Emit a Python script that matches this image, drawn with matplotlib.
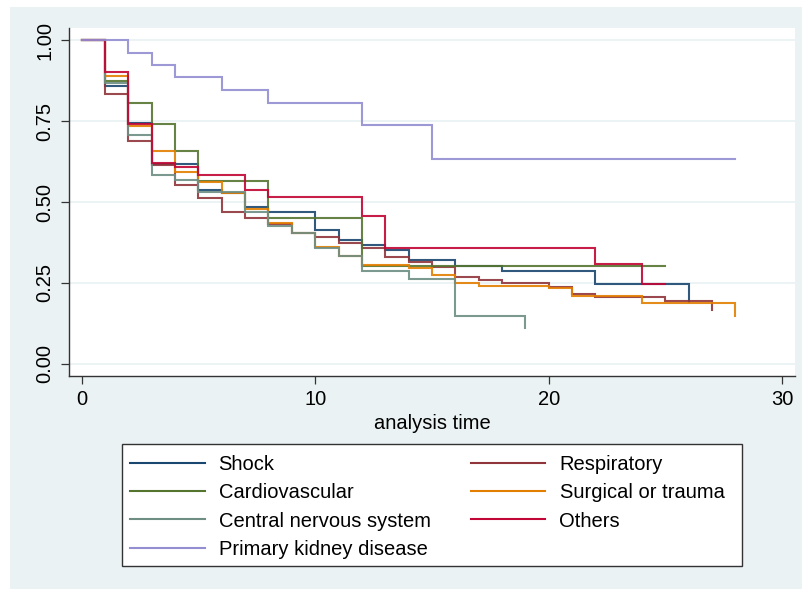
import matplotlib
matplotlib.use("Agg")
import matplotlib.pyplot as plt
from matplotlib.patches import Rectangle

plt.rcParams['font.family'] = ['Liberation Sans', 'DejaVu Sans']

# ---- data (Kaplan-Meier step values) ----
shock_t = [0, 1, 2, 3, 5, 6, 7, 8, 10, 11, 12, 13, 14, 16, 18, 22, 26]
shock_s = [1.0, 0.860, 0.745, 0.617, 0.538, 0.527, 0.486, 0.470, 0.412, 0.383,
           0.368, 0.353, 0.321, 0.303, 0.287, 0.245, 0.191]

resp_t = [0, 1, 2, 3, 4, 5, 6, 7, 8, 9, 10, 11, 12, 13, 14, 15, 16, 17, 18,
          20, 21, 22, 25, 27]
resp_s = [1.0, 0.833, 0.689, 0.614, 0.552, 0.511, 0.468, 0.452, 0.431, 0.405,
          0.393, 0.372, 0.357, 0.330, 0.315, 0.298, 0.267, 0.259, 0.251,
          0.237, 0.215, 0.206, 0.194, 0.166]

cardio_t = [0, 1, 2, 3, 4, 5, 8, 12, 25]
cardio_s = [1.0, 0.875, 0.807, 0.740, 0.658, 0.565, 0.452, 0.302, 0.302]

surg_t = [0, 1, 2, 3, 4, 5, 6, 7, 8, 9, 10, 11, 12, 14, 15, 16, 17, 20, 21,
          24, 28]
surg_s = [1.0, 0.891, 0.735, 0.658, 0.593, 0.563, 0.527, 0.478, 0.434, 0.405,
          0.360, 0.333, 0.305, 0.295, 0.274, 0.251, 0.239, 0.234, 0.209,
          0.188, 0.147]

cns_t = [0, 1, 2, 3, 4, 5, 7, 8, 9, 10, 11, 12, 14, 16, 19]
cns_s = [1.0, 0.867, 0.706, 0.585, 0.568, 0.530, 0.468, 0.426, 0.405, 0.358,
         0.333, 0.287, 0.261, 0.149, 0.110]

other_t = [0, 1, 2, 3, 4, 5, 7, 8, 12, 13, 22, 24, 25]
other_s = [1.0, 0.902, 0.741, 0.622, 0.607, 0.585, 0.538, 0.514, 0.457, 0.358,
           0.307, 0.247, 0.247]

kidney_t = [0, 2, 3, 4, 6, 8, 12, 15, 28]
kidney_s = [1.0, 0.962, 0.925, 0.888, 0.846, 0.805, 0.737, 0.633, 0.633]

labels = ["Shock", "Respiratory", "Cardiovascular", "Surgical or trauma",
          "Central nervous system", "Others", "Primary kidney disease"]
colors = ["#1a476f", "#90353b", "#55752f", "#e37e00", "#6e8e84", "#c10534",
          "#938dd2"]
series = [(shock_t, shock_s), (resp_t, resp_s), (cardio_t, cardio_s),
          (surg_t, surg_s), (cns_t, cns_s), (other_t, other_s),
          (kidney_t, kidney_s)]

xticks = [0, 10, 20, 30]
yticks = [0.0, 0.25, 0.50, 0.75, 1.0]
yticklabels = ["0.00", "0.25", "0.50", "0.75", "1.00"]

# ---- figure ----
W, H = 802, 589
fig = plt.figure(figsize=(W / 100, H / 100), dpi=100, facecolor="white")
bg = "#EAF2F3"
fig.patches.append(Rectangle((10 / W, 0), 1 - 10 / W, 1 - 7 / H,
                             transform=fig.transFigure, facecolor=bg,
                             edgecolor="none", zorder=-10))

ax = fig.add_axes([69.3 / W, 1 - 376 / H, (795 - 69.3) / W, (376 - 28) / H])
ax.set_facecolor("white")

handles = []
for (t, s), lab, c in zip(series, labels, colors):
    ln, = ax.plot(t, s, drawstyle="steps-post", color=c, lw=1.5, alpha=0.9,
                  label=lab, solid_joinstyle="miter", zorder=3)
    handles.append(ln)

ax.set_xlim(-0.53, 30.55)
ax.set_ylim(-0.038, 1.038)
ax.set_xticks(xticks)
ax.set_yticks(yticks)
ax.set_yticklabels(yticklabels)
ax.tick_params(axis="both", labelsize=14.5, length=6, width=0.9,
               color="#333333", labelcolor="black")
ax.tick_params(axis="x", pad=4)
ax.tick_params(axis="y", pad=5)
for lbl in ax.get_yticklabels():
    lbl.set_rotation(90)
    lbl.set_va("center")

ax.grid(axis="y", color=bg, lw=1.3, zorder=0)
ax.set_axisbelow(True)
for side in ["top", "right"]:
    ax.spines[side].set_visible(False)
for side in ["left", "bottom"]:
    ax.spines[side].set_color("#333333")
    ax.spines[side].set_linewidth(1.0)

ax.set_xlabel("analysis time", fontsize=14.5, labelpad=4)

# legend frame drawn explicitly
fig.patches.append(Rectangle((122 / W, 1 - 566 / H), (742 - 122) / W,
                             (566 - 443.5) / H, transform=fig.transFigure,
                             facecolor="white", edgecolor="#333333", lw=1.0,
                             zorder=-5))

order = [0, 2, 4, 6, 1, 3, 5]
leg = fig.legend([handles[i] for i in order], [labels[i] for i in order],
                 ncol=2, loc="upper left",
                 bbox_to_anchor=(130 / W, 1 - 455 / H),
                 bbox_transform=fig.transFigure,
                 fontsize=14.5, frameon=False,
                 handlelength=3.7, handletextpad=0.7, columnspacing=2.0,
                 borderpad=0.0, labelspacing=0.46, borderaxespad=0)
for lh in leg.get_lines():
    lh.set_linewidth(1.5)
    lh.set_alpha(1.0)

fig.savefig("out.png", dpi=100, facecolor=fig.get_facecolor())
